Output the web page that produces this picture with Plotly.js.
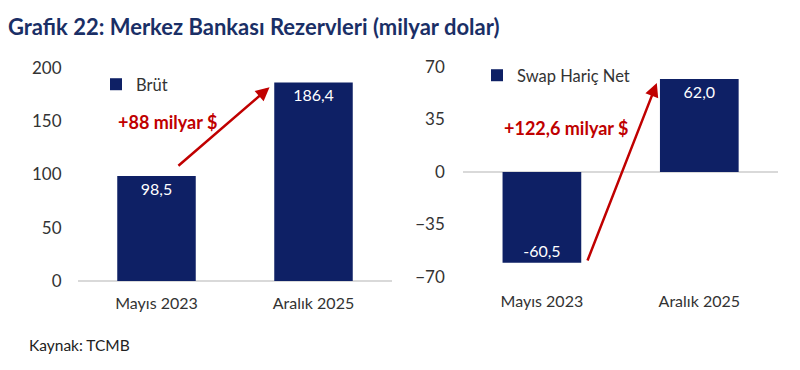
<!DOCTYPE html>
<html>
<head>
<meta charset="utf-8">
<script src="https://cdn.plot.ly/plotly-3.0.1.min.js"></script>
<style>html,body{margin:0;padding:0;background:#fff;}#chart{width:800px;height:370px;}</style>
</head>
<body>
<div id="chart"></div>
<script>
// Data
const categories = ['Mayıs 2023', 'Aralık 2025'];
const grossValues = [98.5, 186.4];
const netValues = [-60.5, 62.0];
const grossName = 'Brüt';
const netName = 'Swap Hariç Net';
const grossTicks = [0, 50, 100, 150, 200];
const netTicks = [-70, -35, 0, 35, 70];
const grossChangeLabel = '+88 milyar $';
const netChangeLabel = '+122,6 milyar $';
const titleText = 'Grafik 22: Merkez Bankası Rezervleri (milyar dolar)';
const sourceText = 'Kaynak: TCMB';

const NAVY = '#0E2065';
const RED = '#C00000';
const FONT = 'Lato, "Open Sans", sans-serif';

const traces = [
  {
    type: 'bar', x: categories, y: grossValues, name: grossName,
    xaxis: 'x', yaxis: 'y', marker: {color: NAVY}, legend: 'legend',
    texttemplate: '%{y:.1f}', textposition: 'inside', insidetextanchor: 'end',
    textfont: {color: '#ffffff', size: 16, family: FONT}, hoverinfo: 'skip'
  },
  {
    type: 'bar', x: categories, y: netValues, name: netName,
    xaxis: 'x2', yaxis: 'y2', marker: {color: NAVY}, legend: 'legend2',
    texttemplate: '%{y:.1f}', textposition: 'inside', insidetextanchor: 'end',
    textfont: {color: '#ffffff', size: 16, family: FONT}, hoverinfo: 'skip'
  }
];

const catFont = {family: FONT, size: 16, color: '#333333'};
const tickFont = {family: FONT, size: 17, color: '#333333'};

const layout = {
  width: 800, height: 370,
  margin: {l: 0, r: 0, t: 0, b: 0},
  paper_bgcolor: '#ffffff', plot_bgcolor: '#ffffff',
  separators: ',.',
  font: {family: FONT},
  bargap: 0.5,
  showlegend: true,
  title: {
    text: '<b>' + titleText + '</b>',
    font: {family: FONT, size: 22, color: '#1A2F66'},
    x: 0.01, xanchor: 'left', xref: 'paper',
    y: 1 - 27/370, yanchor: 'middle', yref: 'container'
  },
  xaxis: {
    domain: [0.0975, 0.49], anchor: 'y', range: [-0.5, 1.5],
    showline: false, showgrid: false, zeroline: false,
    tickfont: catFont, ticks: 'outside', ticklen: 8, tickcolor: 'rgba(0,0,0,0)', fixedrange: true
  },
  yaxis: {
    domain: [0.2405, 0.8162], range: [0, 200], anchor: 'x',
    tickvals: grossTicks, showgrid: false,
    zeroline: true, zerolinecolor: '#D9D9D9', zerolinewidth: 1.5,
    showline: false, tickfont: tickFont,
    ticks: 'outside', ticklen: 12, tickcolor: 'rgba(0,0,0,0)', fixedrange: true
  },
  xaxis2: {
    domain: [0.579, 0.9725], anchor: 'y2', range: [-0.5, 1.5],
    showline: false, showgrid: false, zeroline: false,
    tickfont: catFont, ticks: 'outside', ticklen: 10, tickcolor: 'rgba(0,0,0,0)', fixedrange: true
  },
  yaxis2: {
    domain: [0.2514, 0.8189], range: [-70, 70], anchor: 'x2',
    tickvals: netTicks, showgrid: false,
    zeroline: true, zerolinecolor: '#D9D9D9', zerolinewidth: 1.5,
    showline: false, tickfont: tickFont,
    ticks: 'outside', ticklen: 14, tickcolor: 'rgba(0,0,0,0)', fixedrange: true
  },
  legend: {
    x: 96/800, y: 1 - 67/370, xref: 'paper', yref: 'paper', xanchor: 'left', yanchor: 'top',
    bgcolor: 'rgba(0,0,0,0)', font: {family: FONT, size: 16.5, color: '#333333'},
    itemwidth: 30, itemclick: false, itemdoubleclick: false
  },
  legend2: {
    x: 477/800, y: 1 - 58/370, xref: 'paper', yref: 'paper', xanchor: 'left', yanchor: 'top',
    bgcolor: 'rgba(0,0,0,0)', font: {family: FONT, size: 16.5, color: '#333333'},
    itemwidth: 30, itemclick: false, itemdoubleclick: false
  },
  annotations: [
    {
      xref: 'x', yref: 'y', x: 0.073, y: 149, text: '<b>' + grossChangeLabel + '</b>',
      showarrow: false, font: {family: FONT, size: 18, color: RED}
    },
    {
      xref: 'x', yref: 'y', axref: 'x', ayref: 'y',
      x: 0.72, y: 182, ax: 0.13, ay: 107, text: '',
      showarrow: true, arrowhead: 2, arrowsize: 1.1, arrowwidth: 2.5, arrowcolor: RED, standoff: 0
    },
    {
      xref: 'x2', yref: 'y2', x: 0.152, y: 29.3, text: '<b>' + netChangeLabel + '</b>',
      showarrow: false, font: {family: FONT, size: 18, color: RED}
    },
    {
      xref: 'x2', yref: 'y2', axref: 'x2', ayref: 'y2',
      x: 0.73, y: 59.3, ax: 0.286, ay: -60, text: '',
      showarrow: true, arrowhead: 2, arrowsize: 1.1, arrowwidth: 2.5, arrowcolor: RED, standoff: 0
    },
    {
      xref: 'paper', yref: 'paper', x: 27/800, y: 1 - 345/370, xanchor: 'left', yanchor: 'middle',
      text: sourceText, showarrow: false, font: {family: FONT, size: 15.5, color: '#222222'}
    }
  ]
};

Plotly.newPlot('chart', traces, layout, {displayModeBar: false, staticPlot: true});
</script>
</body>
</html>
